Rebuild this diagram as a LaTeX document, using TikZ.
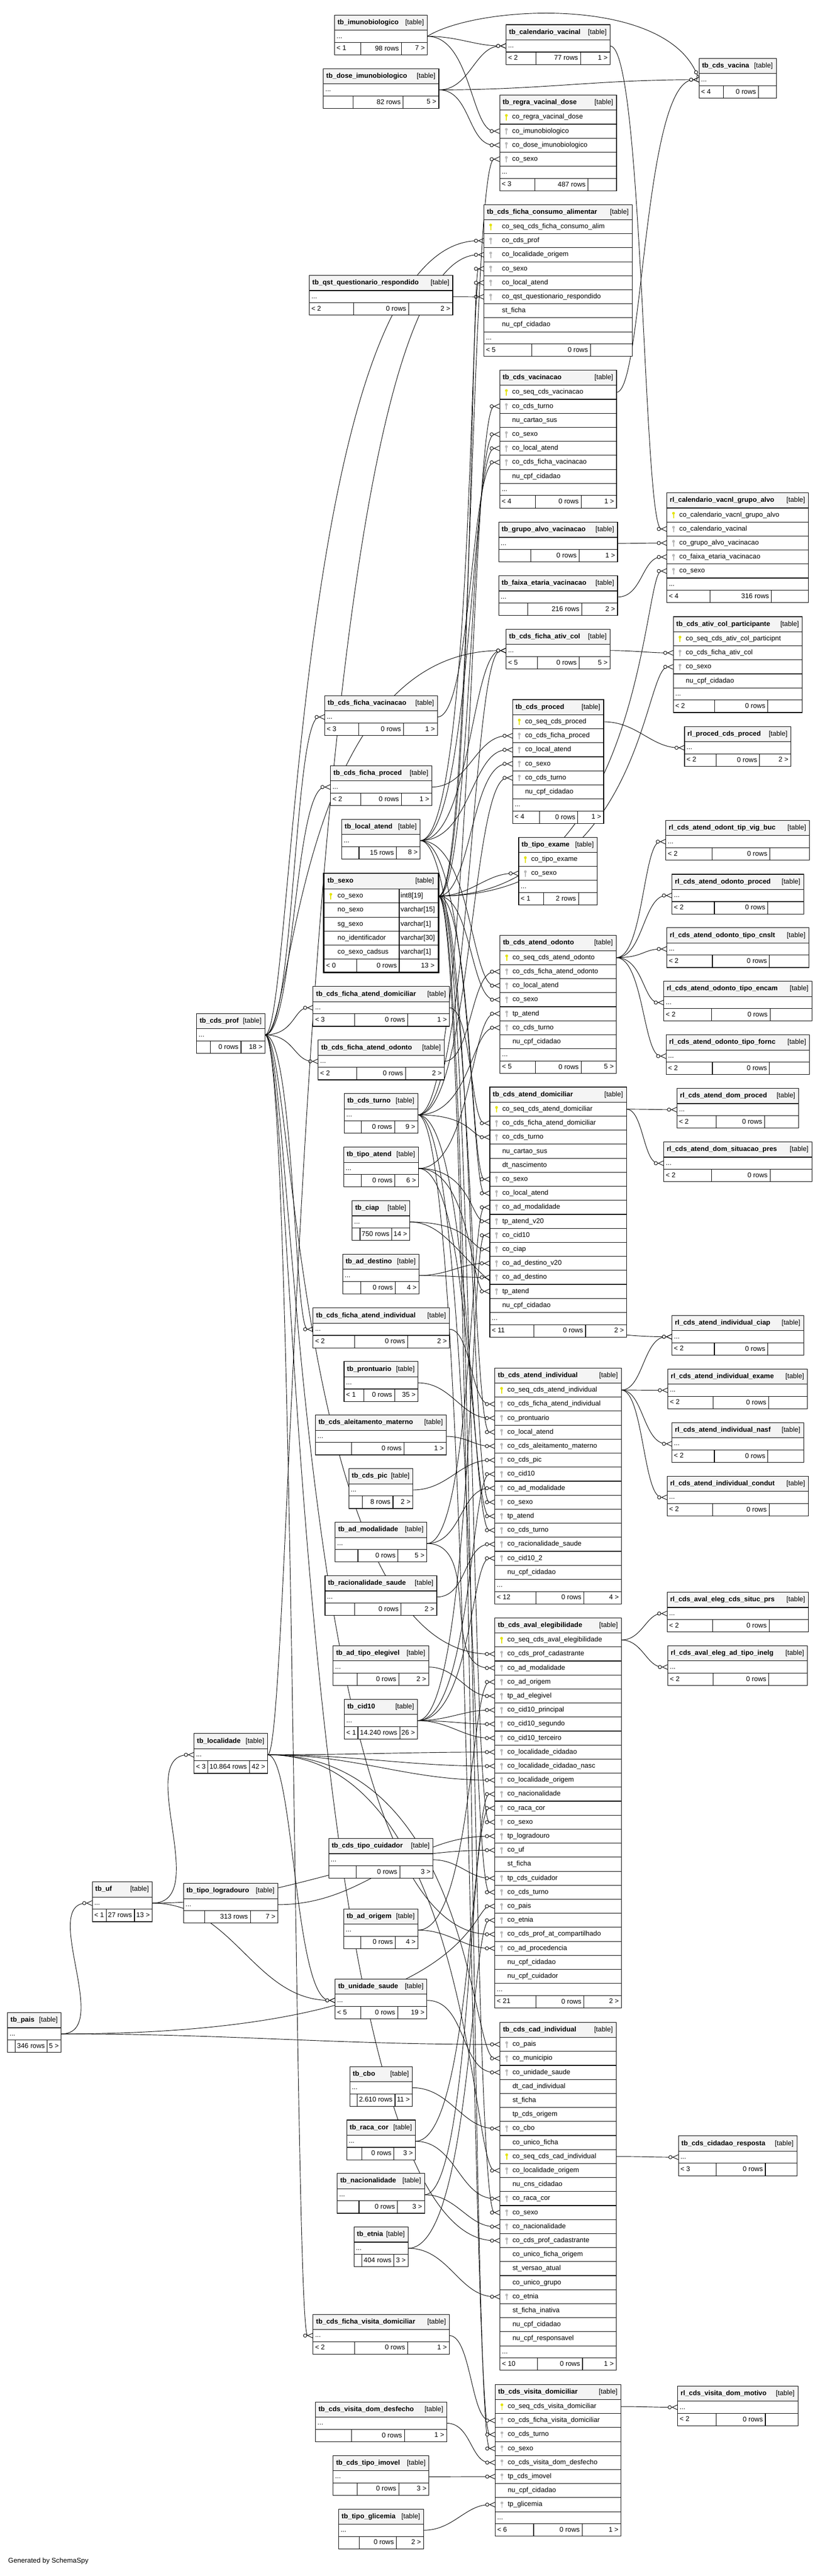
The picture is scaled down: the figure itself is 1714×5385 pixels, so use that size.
\documentclass[tikz,border=0pt]{standalone}
\usepackage{fontspec}
\setmainfont{Liberation Sans}
\usepackage{underscore}
\usetikzlibrary{arrows.meta,backgrounds}
\definecolor{headgray}{RGB}{244,244,244}
\definecolor{keyp}{RGB}{228,228,0}
\definecolor{keyf}{RGB}{185,185,185}
\definecolor{keyn}{RGB}{255,255,255}

\begin{document}
\begin{tikzpicture}[x=1pt,y=-1pt]
    %
    % `cell' is one box of a table, `head' its title bar.
    % `txt', `rtxt' and `title' are the texts in them.
    % `fk' is a foreign key link, drawn from parent to child.
    \tikzstyle{cell} = [draw,line width=1.2pt,fill=white,rectangle,anchor=north west,inner sep=0pt,outer sep=0pt]
    \tikzstyle{head} = [cell,fill=headgray]
    \tikzstyle{txt} = [anchor=west,inner sep=0pt,text height=10.5pt,text depth=3pt,font=\fontsize{14.3}{17}\selectfont]
    \tikzstyle{rtxt} = [txt,anchor=east]
    \tikzstyle{title} = [txt,font=\fontsize{14.3}{17}\selectfont\bfseries]
    \tikzstyle{fk} = [line width=1pt,-{Circle[fill=white,length=8pt,width=8pt] Straight Barb[reversed,length=11pt,width=10pt]}]
    \tikzset{key/.pic={\fill[pic actions] (0,-3.6) circle[radius=2.9]; \fill[pic actions] (-1,-1) rectangle (1,7);}}
    %
    % dots row and footer of a table
    \newcommand{\dbrest}[9]{%
        \node[cell,minimum width=#4pt,minimum height=25.5pt] (#1-d) at (#2,{#3}) {};
        \node[txt] at ([xshift=4pt]#1-d.west) {...};
        \node[cell,minimum width=#4pt,minimum height=26pt] (#1-f) at (#2,{#3+25.5}) {};
        \draw[line width=1.2pt] (#5,{#3+25.5}) -- (#5,{#3+51.5}) (#6,{#3+25.5}) -- (#6,{#3+51.5});
        \node[txt] at ([xshift=4pt]#1-f.west) {#7};
        \node[rtxt] at ({#6-5},{#3+38.75}) {#8};
        \node[rtxt] at ([xshift=-5pt]#1-f.east) {#9};
    }
    % table with no columns shown
    \newcommand{\dbsmall}[8]{%
        \node[head,minimum width=#4pt,minimum height=31.6pt] (#1-h) at (#2,#3) {};
        \node[title] at ([xshift=6pt]#1-h.west) {#5};
        \node[rtxt] at ([xshift=-7pt]#1-h.east) {[table]};
        \dbrest{#1}{#2}{#3+31.6}{#4}{#6}{#7}#8
    }
    % table with its key columns
    \def\dbind{26}
    \newcommand{\dbtable}[9]{%
        \node[head,minimum width=#4pt,minimum height=31.6pt] (#1-h) at (#2,#3) {};
        \node[title] at ([xshift=6pt]#1-h.west) {#5};
        \node[rtxt] at ([xshift=-7pt]#1-h.east) {[table]};
        \foreach \kind/\col [count=\i] in {#6} {
            \node[cell,minimum width=#4pt,minimum height=29.3pt] (#1-\i) at (#2,{#3+31.6+(\i-1)*29.3}) {};
            \pic[fill=key\kind] at ([xshift=14pt]#1-\i.west) {key};
            \node[txt] at ([xshift=\dbind pt]#1-\i.west) {\col};
            \xdef\dbn{\i}
        }
        \dbrest{#1}{#2}{#3+31.6+\dbn*29.3}{#4}{#7}{#8}#9
    }
    % link through a channel
    \newcommand{\fk}[3][chB]{\draw[fk] (#2) .. controls (#2 -| #1) and (#3 -| #1) .. (#3);}
    %
    \useasboundingbox (0,0) rectangle (1714,5385);
    \coordinate (chL) at (615,0);
    \coordinate (chB) at (985,0);
    \coordinate (chR) at (1345,0);
    %
    % Vaccines
    \dbsmall{imuno}{699.5}{31.6}{194}{tb_imunobiologico}{754}{839.4}{{< 1}{98 rows}{7 >}}
    \dbsmall{calvac}{1058.3}{51.7}{217.4}{tb_calendario_vacinal}{1120.8}{1213.9}{{< 2}{77 rows}{1 >}}
    \dbsmall{vacina}{1461.8}{122.3}{161.3}{tb_cds_vacina}{1513}{1586}{{< 4}{0 rows}{}}
    \dbsmall{dose}{676}{143.5}{241.6}{tb_dose_imunobiologico}{737.8}{843}{{}{82 rows}{5 >}}
    \dbtable{regra}{1044.8}{198.6}{244.4}{tb_regra_vacinal_dose}{p/co_regra_vacinal_dose,f/co_imunobiologico,f/co_dose_imunobiologico,f/co_sexo}{1118}{1229.5}{{< 3}{487 rows}{}}
    \def\dbind{37.5}
    \dbtable{consumo}{1012}{427.7}{309.8}{tb_cds_ficha_consumo_alimentar}{p/co_seq_cds_ficha_consumo_alim,f/co_cds_prof,f/co_localidade_origem,f/co_sexo,f/co_local_atend,f/co_qst_questionario_respondido,n/st_ficha,n/nu_cpf_cidadao}{1112.3}{1234.5}{{< 5}{0 rows}{}}
    \def\dbind{26}
    \dbsmall{qst}{646.9}{575.8}{299.8}{tb_qst_questionario_respondido}{739.3}{854.4}{{< 2}{0 rows}{2 >}}
    \dbtable{vacinacao}{1044.8}{773.8}{244.4}{tb_cds_vacinacao}{p/co_seq_cds_vacinacao,f/co_cds_turno,n/nu_cartao_sus,f/co_sexo,f/co_local_atend,f/co_cds_ficha_vacinacao,n/nu_cpf_cidadao}{1119.4}{1215.3}{{< 4}{0 rows}{1 >}}
    \dbsmall{grupoalvo}{1042.6}{1091.7}{248.7}{tb_grupo_alvo_vacinacao}{1109.4}{1211}{{}{0 rows}{1 >}}
    \dbsmall{faixaet}{1042.6}{1203.7}{248.7}{tb_faixa_etaria_vacinacao}{1103.7}{1216.7}{{}{216 rows}{2 >}}
    \dbtable{rlcal}{1394.3}{1030.3}{296.3}{rl_calendario_vacnl_grupo_alvo}{p/co_calendario_vacnl_grupo_alvo,f/co_calendario_vacinal,f/co_grupo_alvo_vacinacao,f/co_faixa_etaria_vacinacao,f/co_sexo}{1484.5}{1613.2}{{< 4}{316 rows}{}}
    \dbsmall{fativcol}{1058.3}{1315.6}{217.4}{tb_cds_ficha_ativ_col}{1123.6}{1211}{{< 5}{0 rows}{5 >}}
    \dbtable{ativpart}{1407.8}{1289.2}{270}{tb_cds_ativ_col_participante}{p/co_seq_cds_ativ_col_participnt,f/co_cds_ficha_ativ_col,f/co_sexo,n/nu_cpf_cidadao}{1494.5}{1605.3}{{< 2}{0 rows}{}}
    \dbsmall{fvacinacao}{678.9}{1454.5}{235.8}{tb_cds_ficha_vacinacao}{750}{843.7}{{< 3}{0 rows}{1 >}}
    \dbtable{proced}{1071.8}{1462.6}{190.4}{tb_cds_proced}{p/co_seq_cds_proced,f/co_cds_ficha_proced,f/co_local_atend,f/co_sexo,f/co_cds_turno,n/nu_cpf_cidadao}{1127.9}{1208.2}{{< 4}{0 rows}{1 >}}
    \dbsmall{rlproced}{1431.3}{1518.8}{222.3}{rl_proced_cds_proced}{1498}{1588.3}{{< 2}{0 rows}{2 >}}
    \dbsmall{fproced}{691}{1600.9}{211.7}{tb_cds_ficha_proced}{754.2}{839.4}{{< 2}{0 rows}{1 >}}
    \dbsmall{localat}{714.4}{1712.8}{164.1}{tb_local_atend}{750.6}{828.8}{{}{15 rows}{8 >}}
    \dbtable{tipoexame}{1084.5}{1750.2}{164.2}{tb_tipo_exame}{p/co_tipo_exame,f/co_sexo}{1136.4}{1209.6}{{< 1}{2 rows}{}}
    %
    % tb_sexo, the table in focus
    \node[head,minimum width=240pt,minimum height=33pt] (sexo-h) at (676.7,1825.5) {};
    \node[title] at ([xshift=8pt]sexo-h.west) {tb_sexo};
    \node[rtxt] at ([xshift=-9pt]sexo-h.east) {[table]};
    \foreach \kind/\col/\ctype [count=\i] in {p/co_sexo/int8[19],n/no_sexo/varchar[15],n/sg_sexo/varchar[1],n/no_identificador/varchar[30],n/co_sexo_cadsus/varchar[1]} {
        \node[cell,minimum width=240pt,minimum height=29.3pt] (sexo-\i) at (676.7,{1858.5+(\i-1)*29.3}) {};
        \pic[fill=key\kind] at ([xshift=15pt]sexo-\i.west) {key};
        \node[txt] at ([xshift=29pt]sexo-\i.west) {\col};
        \node[txt] at (837.5,{1873.15+(\i-1)*29.3}) {\ctype};
    }
    \draw[line width=1.2pt] (834.7,1858.5) -- (834.7,2033);
    \node[cell,minimum width=240pt,minimum height=28pt] (sexo-f) at (676.7,2005) {};
    \draw[line width=1.2pt] (745.7,2005) -- (745.7,2033) (834.7,2005) -- (834.7,2033);
    \node[txt] at ([xshift=5pt]sexo-f.west) {< 0};
    \node[rtxt] at (830,2019) {0 rows};
    \node[rtxt] at ([xshift=-8pt]sexo-f.east) {13 >};
    \draw[line width=3pt] (676.7,1825.5) rectangle (916.7,2033);
    %
    % Dental and home care
    \dbsmall{rlvigbuc}{1392.2}{1715.1}{300.5}{rl_cds_atend_odont_tip_vig_buc}{1488.8}{1609.6}{{< 2}{0 rows}{}}
    \dbsmall{rlodproced}{1405}{1827.6}{275.6}{rl_cds_atend_odonto_proced}{1493.8}{1605.3}{{< 2}{0 rows}{}}
    \dbsmall{rlcnslt}{1394.3}{1939.5}{297}{rl_cds_atend_odonto_tipo_cnslt}{1489.5}{1608.9}{{< 2}{0 rows}{}}
    \dbsmall{rlencam}{1388}{2051.4}{309.7}{rl_cds_atend_odonto_tipo_encam}{1487.4}{1610.3}{{< 2}{0 rows}{}}
    \dbsmall{rlfornc}{1392.9}{2163.4}{299.8}{rl_cds_atend_odonto_tipo_fornc}{1489.5}{1608.9}{{< 2}{0 rows}{}}
    \dbtable{odonto}{1045.5}{1955.6}{243}{tb_cds_atend_odonto}{p/co_seq_cds_atend_odonto,f/co_cds_ficha_atend_odonto,f/co_local_atend,f/co_sexo,f/tp_atend,f/co_cds_turno,n/nu_cpf_cidadao}{1119.4}{1215.3}{{< 5}{0 rows}{5 >}}
    \dbsmall{prof}{411.2}{2119}{142.8}{tb_cds_prof}{439.8}{504}{{}{0 rows}{18 >}}
    \dbsmall{fdomic}{654.7}{2062.3}{284.9}{tb_cds_ficha_atend_domiciliar}{741.4}{852.2}{{< 3}{0 rows}{1 >}}
    \dbsmall{fodonto}{665.4}{2174.3}{263.6}{tb_cds_ficha_atend_odonto}{745.6}{848}{{< 2}{0 rows}{2 >}}
    \dbsmall{turno}{720}{2286.2}{153.5}{tb_cds_turno}{755.6}{825.2}{{}{0 rows}{9 >}}
    \dbsmall{tipoatend}{718.7}{2398.2}{156.3}{tb_tipo_atend}{755.6}{825.9}{{}{0 rows}{6 >}}
    \dbsmall{ciap}{736.4}{2510.1}{120.1}{tb_ciap}{752.8}{819.5}{{}{750 rows}{14 >}}
    \dbsmall{addest}{716.5}{2622}{159.9}{tb_ad_destino}{754.2}{826.6}{{}{0 rows}{4 >}}
    \dbsmall{rldomproc}{1415.6}{2275.3}{254.4}{rl_cds_atend_dom_proced}{1497.3}{1599}{{< 2}{0 rows}{}}
    \dbsmall{rldomsit}{1388}{2387.3}{309.7}{rl_cds_atend_dom_situacao_pres}{1487.4}{1610.3}{{< 2}{0 rows}{}}
    \dbtable{domic}{1024.2}{2272.4}{285.6}{tb_cds_atend_domiciliar}{p/co_seq_cds_atend_domiciliar,f/co_cds_ficha_atend_domiciliar,f/co_cds_turno,n/nu_cartao_sus,n/dt_nascimento,f/co_sexo,f/co_local_atend,f/co_ad_modalidade,f/tp_atend_v20,f/co_cid10,f/co_ciap,f/co_ad_destino_v20,f/co_ad_destino,f/tp_atend,n/nu_cpf_cidadao}{1116.5}{1224.5}{{< 11}{0 rows}{2 >}}
    %
    % Individual care
    \dbsmall{findiv}{654.7}{2734.4}{284.9}{tb_cds_ficha_atend_individual}{741.4}{852.2}{{< 2}{0 rows}{2 >}}
    \dbsmall{rlciap}{1405}{2750}{275.6}{rl_cds_atend_individual_ciap}{1493.8}{1605.3}{{< 2}{0 rows}{}}
    \dbsmall{prontuario}{719.4}{2846.4}{154.8}{tb_prontuario}{761.3}{825.2}{{< 1}{0 rows}{35 >}}
    \dbsmall{rlexame}{1396.5}{2861.9}{292}{rl_cds_atend_individual_exame}{1491}{1607.5}{{< 2}{0 rows}{}}
    \dbsmall{rlnasf}{1405}{2973.8}{275.6}{rl_cds_atend_individual_nasf}{1493.8}{1605.3}{{< 2}{0 rows}{}}
    \dbsmall{rlcondut}{1395}{3085.8}{295.6}{rl_cds_atend_individual_condut}{1490.2}{1608.2}{{< 2}{0 rows}{}}
    \dbsmall{aleit}{659.7}{2958.3}{273.5}{tb_cds_aleitamento_materno}{735}{845.1}{{}{0 rows}{1 >}}
    \dbsmall{pic}{729.3}{3070.3}{134.3}{tb_cds_pic}{757.7}{821.7}{{}{8 rows}{2 >}}
    \dbsmall{admod}{700.9}{3182.2}{191.8}{tb_ad_modalidade}{748.5}{832.3}{{}{0 rows}{5 >}}
    \dbsmall{racion}{679.6}{3294.1}{233.7}{tb_racionalidade_saude}{741.4}{838.7}{{}{0 rows}{2 >}}
    \dbtable{indiv}{1034.8}{2859.6}{264.3}{tb_cds_atend_individual}{p/co_seq_cds_atend_individual,f/co_cds_ficha_atend_individual,f/co_prontuario,f/co_local_atend,f/co_cds_aleitamento_materno,f/co_cds_pic,f/co_cid10,f/co_ad_modalidade,f/co_sexo,f/tp_atend,f/co_cds_turno,f/co_racionalidade_saude,f/co_cid10_2,n/nu_cpf_cidadao}{1120.8}{1221}{{< 12}{0 rows}{4 >}}
    %
    % Eligibility
    \dbsmall{rlsituc}{1395}{3328.6}{295.6}{rl_cds_aval_eleg_cds_situc_prs}{1490.2}{1608.2}{{< 2}{0 rows}{}}
    \dbsmall{rlinelg}{1396.5}{3440.5}{292}{rl_cds_aval_eleg_ad_tipo_inelg}{1491}{1607.5}{{< 2}{0 rows}{}}
    \dbsmall{adtipoeleg}{696.6}{3440.5}{199.7}{tb_ad_tipo_elegivel}{747}{833.7}{{}{0 rows}{2 >}}
    \dbsmall{cid10}{720}{3552.5}{152.8}{tb_cid10}{748.5}{835.9}{{< 1}{14.240 rows}{26 >}}
    \dbsmall{tipocuid}{687.4}{3843.4}{218.1}{tb_cds_tipo_cuidador}{745}{835.9}{{}{0 rows}{3 >}}
    \dbsmall{adorig}{718.7}{3990.4}{155.5}{tb_ad_origem}{754.9}{826.6}{{}{0 rows}{4 >}}
    \dbsmall{unidade}{700.9}{4137.3}{191.8}{tb_unidade_saude}{754.9}{831.6}{{< 5}{0 rows}{19 >}}
    \dbtable{aval}{1034.8}{3382}{264.3}{tb_cds_aval_elegibilidade}{p/co_seq_cds_aval_elegibilidade,f/co_cds_prof_cadastrante,f/co_ad_modalidade,f/co_ad_origem,f/tp_ad_elegivel,f/co_cid10_principal,f/co_cid10_segundo,f/co_cid10_terceiro,f/co_localidade_cidadao,f/co_localidade_cidadao_nasc,f/co_localidade_origem,f/co_nacionalidade,f/co_raca_cor,f/co_sexo,f/tp_logradouro,f/co_uf,n/st_ficha,f/tp_cds_cuidador,f/co_cds_turno,f/co_pais,f/co_etnia,f/co_cds_prof_at_compartilhado,f/co_ad_procedencia,n/nu_cpf_cidadao,n/nu_cpf_cuidador}{1120.8}{1221}{{< 21}{0 rows}{2 >}}
    %
    % Places
    \dbsmall{localidade}{405.6}{3623.9}{154.1}{tb_localidade}{434.7}{521.4}{{< 3}{10.864 rows}{42 >}}
    \dbsmall{uf}{192.9}{3934}{125.5}{tb_uf}{222.4}{281.1}{{< 1}{27 rows}{13 >}}
    \dbsmall{logradouro}{383.7}{3937.2}{197.4}{tb_tipo_logradouro}{428}{523.5}{{}{313 rows}{7 >}}
    \dbsmall{pais}{15.8}{4207.4}{112.2}{tb_pais}{32.1}{99}{{}{346 rows}{5 >}}
    %
    % Registration and home visits
    \dbsmall{cbo}{731.4}{4319.9}{130.8}{tb_cbo}{747}{826}{{}{2.610 rows}{11 >}}
    \dbsmall{racacor}{725}{4431.8}{143.6}{tb_raca_cor}{757}{823.8}{{}{0 rows}{3 >}}
    \dbsmall{cidresp}{1418.5}{4465.1}{247.9}{tb_cds_cidadao_resposta}{1498}{1600.4}{{< 3}{0 rows}{}}
    \dbsmall{nacion}{705.2}{4543.6}{182.5}{tb_nacionalidade}{750.6}{830.9}{{}{0 rows}{3 >}}
    \dbsmall{etnia}{740}{4655.5}{113.6}{tb_etnia}{756.3}{823.8}{{}{404 rows}{3 >}}
    \dbtable{cadind}{1045.5}{4227.4}{243}{tb_cds_cad_individual}{f/co_pais,f/co_municipio,f/co_unidade_saude,n/dt_cad_individual,n/st_ficha,n/tp_cds_origem,f/co_cbo,n/co_unico_ficha,p/co_seq_cds_cad_individual,f/co_localidade_origem,n/nu_cns_cidadao,f/co_raca_cor,f/co_sexo,f/co_nacionalidade,f/co_cds_prof_cadastrante,n/co_unico_ficha_origem,n/st_versao_atual,n/co_unico_grupo,f/co_etnia,n/st_ficha_inativa,n/nu_cpf_cidadao,n/nu_cpf_responsavel}{1124.3}{1218.1}{{< 10}{0 rows}{1 >}}
    \dbsmall{fvisita}{654.7}{4838}{284.9}{tb_cds_ficha_visita_domiciliar}{741.4}{852.2}{{< 2}{0 rows}{1 >}}
    \dbsmall{rlmotivo}{1417}{4987.9}{251.6}{rl_cds_visita_dom_motivo}{1498}{1600.4}{{< 2}{0 rows}{}}
    \dbsmall{desfecho}{659.7}{5021.2}{274.2}{tb_cds_visita_dom_desfecho}{735}{845.8}{{}{0 rows}{1 >}}
    \dbsmall{imovel}{696.6}{5133.1}{200.4}{tb_cds_tipo_imovel}{747}{833.7}{{}{0 rows}{3 >}}
    \dbsmall{glicemia}{708}{5245}{177.6}{tb_tipo_glicemia}{751.3}{828.8}{{}{0 rows}{2 >}}
    \dbtable{visita}{1035.5}{4984.4}{262.9}{tb_cds_visita_domiciliar}{p/co_seq_cds_visita_domiciliar,f/co_cds_ficha_visita_domiciliar,f/co_cds_turno,f/co_sexo,f/co_cds_visita_dom_desfecho,f/tp_cds_imovel,n/nu_cpf_cidadao,f/tp_glicemia}{1115.8}{1217.4}{{< 6}{0 rows}{1 >}}
    %
    \node[txt] (credit) at (17,5354) {Generated by SchemaSpy};
    %
    % Links
    \begin{scope}[on background layer]
    \draw[fk] (imuno-d.east) to[out=0,in=180] (calvac-d.west);
    \draw[fk] (dose-d.east) to[out=0,in=180] (calvac-d.west);
    \draw[fk] (dose-d.east) to[out=0,in=180] (vacina-d.west);
    \draw[fk] (imuno-d.east) .. controls (1000,10) and (1390,-10) .. (vacina-d.west);
    \fk{imuno-d.east}{regra-2.west}
    \draw[fk] (dose-d.east) to[out=0,in=180] (regra-3.west);
    \fk[chR]{calvac-d.east}{rlcal-2.west}
    \fk[chR]{vacinacao-1.east}{vacina-d.west}
    \draw[fk] (qst-d.east) to[out=0,in=180] (consumo-6.west);
    \draw[fk] (grupoalvo-d.east) to[out=0,in=180] (rlcal-3.west);
    \draw[fk] (faixaet-d.east) to[out=0,in=180] (rlcal-4.west);
    \draw[fk] (fativcol-d.east) to[out=0,in=180] (ativpart-2.west);
    \fk{fvacinacao-d.east}{vacinacao-6.west}
    \draw[fk] (fproced-d.east) to[out=0,in=180] (proced-2.west);
    \draw[fk] (proced-1.east) to[out=0,in=180] (rlproced-d.west);
    %
    % tb_sexo
    \foreach \t in {regra-4,consumo-4,vacinacao-4,proced-4,odonto-4,domic-6,indiv-9,aval-14,cadind-13,visita-4}
        {\fk{sexo-1.east}{\t.west}}
    \draw[fk] (sexo-1.east) to[out=0,in=180] (tipoexame-2.west);
    \fk[chR]{sexo-1.east}{rlcal-5.west}
    \fk[chR]{sexo-1.east}{ativpart-3.west}
    %
    % tb_cds_prof
    \foreach \t in {consumo-2,fativcol-d,fvacinacao-d,fproced-d,fdomic-d,fodonto-d,findiv-d,fvisita-d,aval-2,aval-22,cadind-15}
        {\fk[chL]{prof-d.east}{\t.west}}
    %
    % lookups of the care tables
    \foreach \t in {consumo-5,vacinacao-5,proced-3,odonto-3,domic-7,indiv-4,fativcol-d}
        {\fk{localat-d.east}{\t.west}}
    \foreach \t in {vacinacao-2,proced-5,odonto-6,domic-3,indiv-11,aval-19,visita-3,fativcol-d}
        {\fk{turno-d.east}{\t.west}}
    \foreach \t in {odonto-5,domic-9,domic-14,indiv-10}
        {\fk{tipoatend-d.east}{\t.west}}
    \fk{ciap-d.east}{domic-11.west}
    \fk{ciap-d.east}{rlciap-d.west}
    \draw[fk] (addest-d.east) to[out=0,in=180] (domic-12.west);
    \draw[fk] (addest-d.east) to[out=0,in=180] (domic-13.west);
    \fk{fdomic-d.east}{domic-2.west}
    \fk{fodonto-d.east}{odonto-2.west}
    \fk{findiv-d.east}{indiv-2.west}
    \draw[fk] (prontuario-d.east) to[out=0,in=180] (indiv-3.west);
    \draw[fk] (aleit-d.east) to[out=0,in=180] (indiv-5.west);
    \draw[fk] (pic-d.east) to[out=0,in=180] (indiv-6.west);
    \fk{admod-d.east}{domic-8.west}
    \draw[fk] (admod-d.east) to[out=0,in=180] (indiv-8.west);
    \draw[fk] (admod-d.east) to[out=0,in=180] (aval-3.west);
    \draw[fk] (racion-d.east) to[out=0,in=180] (indiv-12.west);
    \foreach \t in {domic-10,indiv-7,indiv-13}
        {\fk{cid10-d.east}{\t.west}}
    \foreach \t in {aval-6,aval-7,aval-8}
        {\draw[fk] (cid10-d.east) to[out=0,in=180] (\t.west);}
    \draw[fk] (adtipoeleg-d.east) to[out=0,in=180] (aval-5.west);
    \draw[fk] (tipocuid-d.east) to[out=0,in=180] (aval-18.west);
    \fk{adorig-d.east}{aval-4.west}
    \draw[fk] (adorig-d.east) to[out=0,in=180] (aval-23.west);
    %
    % places
    \draw[fk] (pais-d.east) to[out=0,in=180] (uf-d.west);
    \draw[fk] (uf-d.east) to[out=0,in=180] (localidade-d.west);
    \draw[fk] (uf-d.east) to[out=0,in=180] (unidade-d.west);
    \draw[fk] (uf-d.east) to[out=0,in=180] (aval-16.west);
    \fk{pais-d.east}{aval-20.west}
    \draw[fk] (pais-d.east) to[out=0,in=180] (cadind-1.west);
    \foreach \t in {aval-9,aval-10,aval-11}
        {\draw[fk] (localidade-d.east) to[out=0,in=180] (\t.west);}
    \fk{localidade-d.east}{cadind-2.west}
    \fk{localidade-d.east}{cadind-10.west}
    \fk[chL]{localidade-d.east}{consumo-3.west}
    \fk[chL]{localidade-d.east}{unidade-d.west}
    \draw[fk] (logradouro-d.east) to[out=0,in=180] (aval-15.west);
    %
    % registration
    \fk{nacion-d.east}{aval-12.west}
    \fk{racacor-d.east}{aval-13.west}
    \fk{etnia-d.east}{aval-21.west}
    \draw[fk] (nacion-d.east) to[out=0,in=180] (cadind-14.west);
    \draw[fk] (racacor-d.east) to[out=0,in=180] (cadind-12.west);
    \draw[fk] (etnia-d.east) to[out=0,in=180] (cadind-19.west);
    \draw[fk] (unidade-d.east) to[out=0,in=180] (cadind-3.west);
    \draw[fk] (cbo-d.east) to[out=0,in=180] (cadind-7.west);
    \draw[fk] (cadind-9.east) to[out=0,in=180] (cidresp-d.west);
    %
    % home visits
    \fk{fvisita-d.east}{visita-2.west}
    \draw[fk] (desfecho-d.east) to[out=0,in=180] (visita-5.west);
    \draw[fk] (imovel-d.east) to[out=0,in=180] (visita-6.west);
    \draw[fk] (glicemia-d.east) to[out=0,in=180] (visita-8.west);
    \draw[fk] (visita-1.east) to[out=0,in=180] (rlmotivo-d.west);
    %
    % relation tables on the right
    \foreach \t in {rlvigbuc-d,rlodproced-d,rlcnslt-d,rlencam-d,rlfornc-d}
        {\fk[chR]{odonto-1.east}{\t.west}}
    \draw[fk] (domic-1.east) to[out=0,in=180] (rldomproc-d.west);
    \fk[chR]{domic-1.east}{rldomsit-d.west}
    \foreach \t in {rlciap-d,rlexame-d,rlnasf-d,rlcondut-d}
        {\fk[chR]{indiv-1.east}{\t.west}}
    \draw[fk] (aval-1.east) to[out=0,in=180] (rlsituc-d.west);
    \draw[fk] (aval-1.east) to[out=0,in=180] (rlinelg-d.west);
    \end{scope}
    %
\end{tikzpicture}
\end{document}
